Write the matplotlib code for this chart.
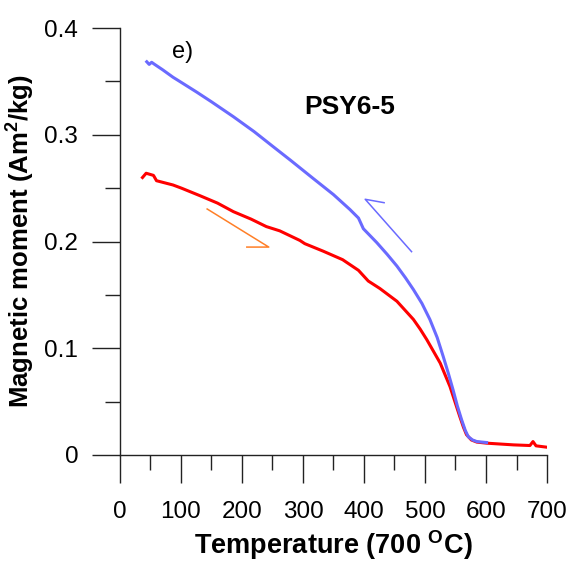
import matplotlib
matplotlib.use("Agg")
import matplotlib.pyplot as plt
from matplotlib.ticker import MultipleLocator, FuncFormatter

plt.rcParams['font.family'] = ['Liberation Sans', 'DejaVu Sans']

# heating curve (red)
heat_t = [37, 43, 55, 60, 87, 101, 131, 160, 186, 215, 240, 262, 295, 303, 333, 365,
          391, 407, 426, 454, 481, 492, 503, 514, 525, 533, 541, 549, 557, 563, 568,
          576, 585, 601, 645, 672, 677, 682, 700]
heat_m = [0.260, 0.264, 0.262, 0.257, 0.253, 0.250, 0.243, 0.236, 0.228, 0.221,
          0.214, 0.210, 0.201, 0.198, 0.191, 0.183, 0.173, 0.163, 0.156, 0.144,
          0.127, 0.118, 0.108, 0.097, 0.086, 0.075, 0.064, 0.050, 0.036, 0.026, 0.019,
          0.014, 0.012, 0.011, 0.0094, 0.0088, 0.0125, 0.0085, 0.0072]

# cooling curve (blue)
cool_t = [44, 48, 52, 57, 70, 87, 101, 126, 150, 186, 220, 251, 280, 317, 350, 377,
          391, 399, 421, 438, 454, 468, 481, 495, 508, 520, 530, 538, 546, 553, 560,
          566, 571, 578, 585, 601]
cool_m = [0.3685, 0.366, 0.368, 0.366, 0.361, 0.354, 0.349, 0.340, 0.331, 0.317,
          0.303, 0.289, 0.276, 0.259, 0.244, 0.230, 0.222, 0.212, 0.199, 0.188,
          0.177, 0.166, 0.155, 0.142, 0.127, 0.110, 0.092, 0.077, 0.061, 0.046, 0.033,
          0.023, 0.017, 0.014, 0.0125, 0.0116]

# direction arrows drawn as open lines
heat_arrow_t = [143, 244, 208]
heat_arrow_m = [0.2305, 0.1948, 0.1948]
cool_arrow_t = [478, 402, 433]
cool_arrow_m = [0.1905, 0.2396, 0.2364]

fig = plt.figure(figsize=(5.71, 5.63), dpi=100)
ax = fig.add_axes([0.210, 0.192, 0.748, 0.758])

ax.plot(heat_t, heat_m, color='#ff0000', lw=2.2, zorder=3)
ax.plot(cool_t, cool_m, color='#6a6aff', lw=2.2, zorder=4)
ax.plot(heat_arrow_t, heat_arrow_m, color='#ff7f27', lw=1.1)
ax.plot(cool_arrow_t, cool_arrow_m, color='#6a6aff', lw=1.1)

ax.text(103, 0.3775, 'e)', fontsize=17, ha='center', va='center')
ax.text(376, 0.326, 'PSY6-5', fontsize=19, fontweight='bold', ha='center', va='center')

ax.set_xlim(0, 700)
ax.set_ylim(0, 0.4)
ax.spines['top'].set_visible(False)
ax.spines['right'].set_visible(False)
for s in ('left', 'bottom'):
    ax.spines[s].set_color('#222222')
    ax.spines[s].set_linewidth(1.0)

ax.xaxis.set_major_locator(MultipleLocator(100))
ax.xaxis.set_minor_locator(MultipleLocator(50))
ax.yaxis.set_major_locator(MultipleLocator(0.1))
ax.yaxis.set_minor_locator(MultipleLocator(0.05))
ax.yaxis.set_major_formatter(FuncFormatter(lambda v, p: '0' if abs(v) < 1e-9 else f'{v:.1f}'))

ax.tick_params(which='major', direction='out', length=20, width=1.0, color='#222222', labelsize=17.5)
ax.tick_params(axis='x', which='major', pad=13)
ax.tick_params(axis='y', which='major', pad=10)
ax.tick_params(which='minor', direction='out', length=11, width=1.0, color='#222222')

ax.set_xlabel('Temperature (700 $^{\\mathregular{O}}$C)', fontsize=19.5, fontweight='bold', labelpad=4)
ax.set_ylabel('Magnetic moment (Am$^{\\mathregular{2}}$/kg)', fontsize=18.5, fontweight='bold', labelpad=6)

fig.savefig('out.png', dpi=100)
